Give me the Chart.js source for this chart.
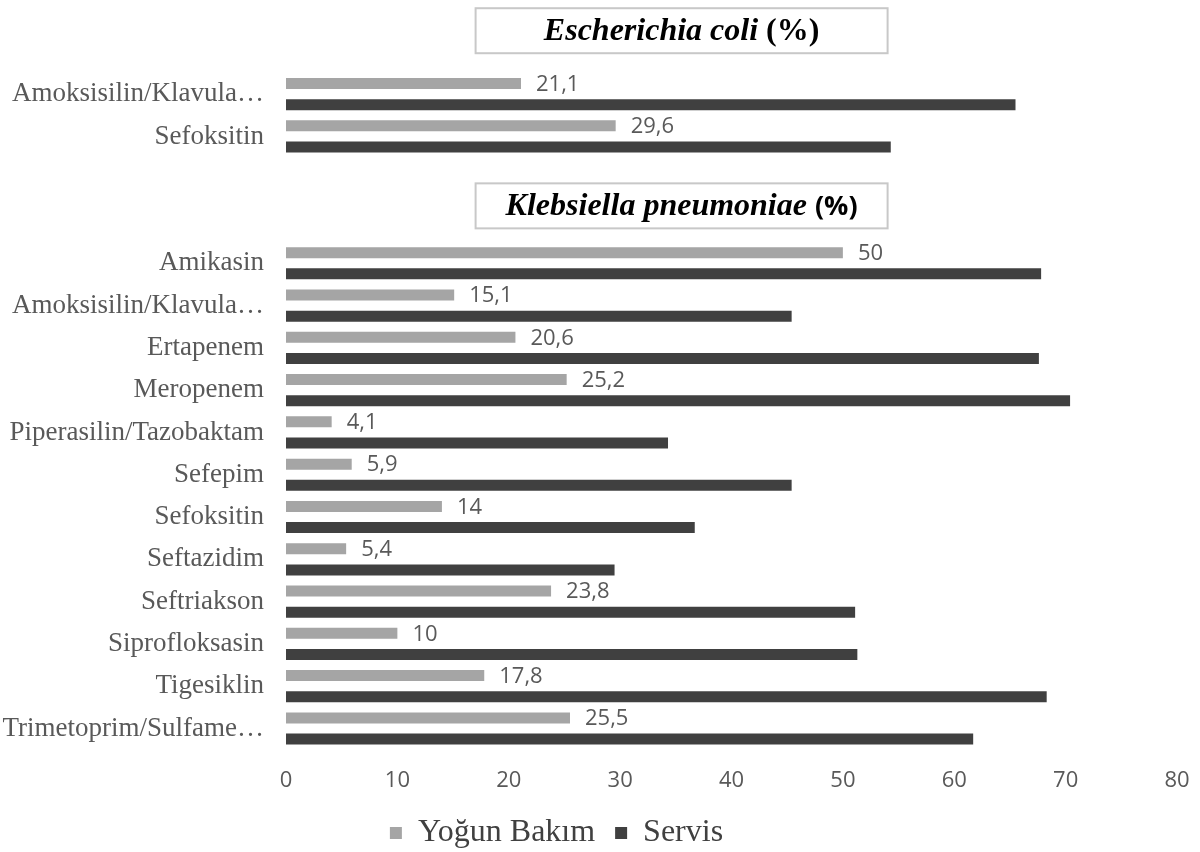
<!DOCTYPE html>
<html>
<head>
<meta charset="utf-8">
<script src="https://cdn.jsdelivr.net/npm/chart.js@4.4.1/dist/chart.umd.min.js"></script>
<style>
  html, body { margin: 0; padding: 0; background: #ffffff; }
  #wrap { width: 1200px; height: 852px; }
</style>
</head>
<body>
<div id="wrap"><canvas id="chart" width="1200" height="852"></canvas></div>
<script>
// ---- data ----
const categories = [
  'Amoksisilin/Klavula…', 'Sefoksitin', '', '',
  'Amikasin', 'Amoksisilin/Klavula…', 'Ertapenem', 'Meropenem',
  'Piperasilin/Tazobaktam', 'Sefepim', 'Sefoksitin', 'Seftazidim',
  'Seftriakson', 'Siprofloksasin', 'Tigesiklin', 'Trimetoprim/Sulfame…'
];
const yogunBakim = [21.1, 29.6, null, null, 50, 15.1, 20.6, 25.2, 4.1, 5.9, 14, 5.4, 23.8, 10, 17.8, 25.5];
const servis = [65.5, 54.3, null, null, 67.8, 45.4, 67.6, 70.4, 34.3, 45.4, 36.7, 29.5, 51.1, 51.3, 68.3, 61.7];
const seriesNames = ['Yoğun Bakım', 'Servis'];
const xTickValues = [0, 10, 20, 30, 40, 50, 60, 70, 80];
const groupTitles = ['Escherichia coli', 'Klebsiella pneumoniae'];
const groupSuffixes = ['(%)', '(%)'];
const groupFirstRow = [0, 4];

// ---- styles ----
const GREY = '#a5a5a5';
const DARK = '#404040';
const TEXT = '#595959';
const suffixFonts = ['bold 32px "Liberation Serif"', 'bold 27px "Open Sans"'];
const boxShift = [0, 6];

const dataLabelPlugin = {
  id: 'dataLabels',
  afterDatasetsDraw(chart) {
    const ctx = chart.ctx;
    const meta = chart.getDatasetMeta(0);
    ctx.save();
    ctx.font = '22px "Open Sans"';
    ctx.fillStyle = TEXT;
    ctx.textAlign = 'left';
    ctx.textBaseline = 'middle';
    meta.data.forEach((bar, i) => {
      const v = chart.data.datasets[0].data[i];
      if (v === null || v === undefined) return;
      ctx.fillText(String(v).replace('.', ','), bar.x + 15, bar.y + 1);
    });
    ctx.restore();
  }
};

const groupBoxPlugin = {
  id: 'groupBoxes',
  afterDraw(chart) {
    const ctx = chart.ctx;
    const y = chart.scales.y;
    const area = chart.chartArea;
    const row = y.getPixelForValue(1) - y.getPixelForValue(0);
    const cx = area.left + area.width * 0.444;
    const boxW = 412, boxH = 45;
    groupTitles.forEach((title, i) => {
      const cy = y.getPixelForValue(groupFirstRow[i]) - 1.5 * row + boxShift[i];
      ctx.save();
      ctx.fillStyle = '#ffffff';
      ctx.fillRect(cx - boxW / 2, cy - boxH / 2, boxW, boxH);
      ctx.strokeStyle = '#c8c8c8';
      ctx.lineWidth = 2;
      ctx.strokeRect(cx - boxW / 2, cy - boxH / 2, boxW, boxH);
      const italicFont = 'italic bold 32px "Liberation Serif"';
      ctx.font = italicFont;
      const w1 = ctx.measureText(title + ' ').width;
      ctx.font = suffixFonts[i];
      const w2 = ctx.measureText(groupSuffixes[i]).width;
      let x = cx - (w1 + w2) / 2;
      ctx.fillStyle = '#000000';
      ctx.textBaseline = 'middle';
      ctx.textAlign = 'left';
      ctx.font = italicFont;
      ctx.fillText(title + ' ', x, cy + 1);
      ctx.font = suffixFonts[i];
      ctx.fillText(groupSuffixes[i], x + w1, cy + 1);
      ctx.restore();
    });
  }
};

const legendShiftPlugin = {
  id: 'legendShift',
  afterLayout(chart) {
    const lg = chart.legend;
    if (!lg) return;
    lg.left -= 32; lg.right -= 32;
    lg.top += 7; lg.bottom += 7;
  }
};

new Chart(document.getElementById('chart'), {
  type: 'bar',
  data: {
    labels: categories,
    datasets: [
      { label: seriesNames[0], data: yogunBakim, backgroundColor: GREY, borderWidth: 0 },
      { label: seriesNames[1], data: servis, backgroundColor: DARK, borderWidth: 0 }
    ]
  },
  options: {
    indexAxis: 'y',
    responsive: false,
    animation: false,
    devicePixelRatio: 1,
    categoryPercentage: 1.0,
    barPercentage: 0.52,
    layout: { padding: { top: 73, right: 23, left: 0, bottom: 0 } },
    scales: {
      x: {
        min: 0, max: 80,
        afterBuildTicks(scale) { scale.ticks = xTickValues.map(v => ({ value: v })); },
        afterFit(scale) {
          scale.height = scale.height - 22;
          scale.paddingLeft = 0;
          scale.paddingRight = 0;
        },
        grid: { display: false, drawTicks: false },
        border: { display: false },
        ticks: { color: TEXT, padding: 18, font: { family: 'Open Sans', size: 22 } }
      },
      y: {
        grid: { display: false, drawTicks: false },
        border: { display: false },
        afterFit(scale) { scale.width = 286; },
        ticks: { color: TEXT, padding: 22, autoSkip: false, font: { family: 'Liberation Serif', size: 27 } }
      }
    },
    plugins: {
      legend: {
        position: 'bottom',
        labels: {
          color: DARK,
          boxWidth: 12, boxHeight: 12,
          padding: 20,
          font: { family: 'Liberation Serif', size: 32 }
        }
      },
      tooltip: { enabled: false },
      title: { display: false }
    }
  },
  plugins: [dataLabelPlugin, groupBoxPlugin, legendShiftPlugin]
});
</script>
</body>
</html>
